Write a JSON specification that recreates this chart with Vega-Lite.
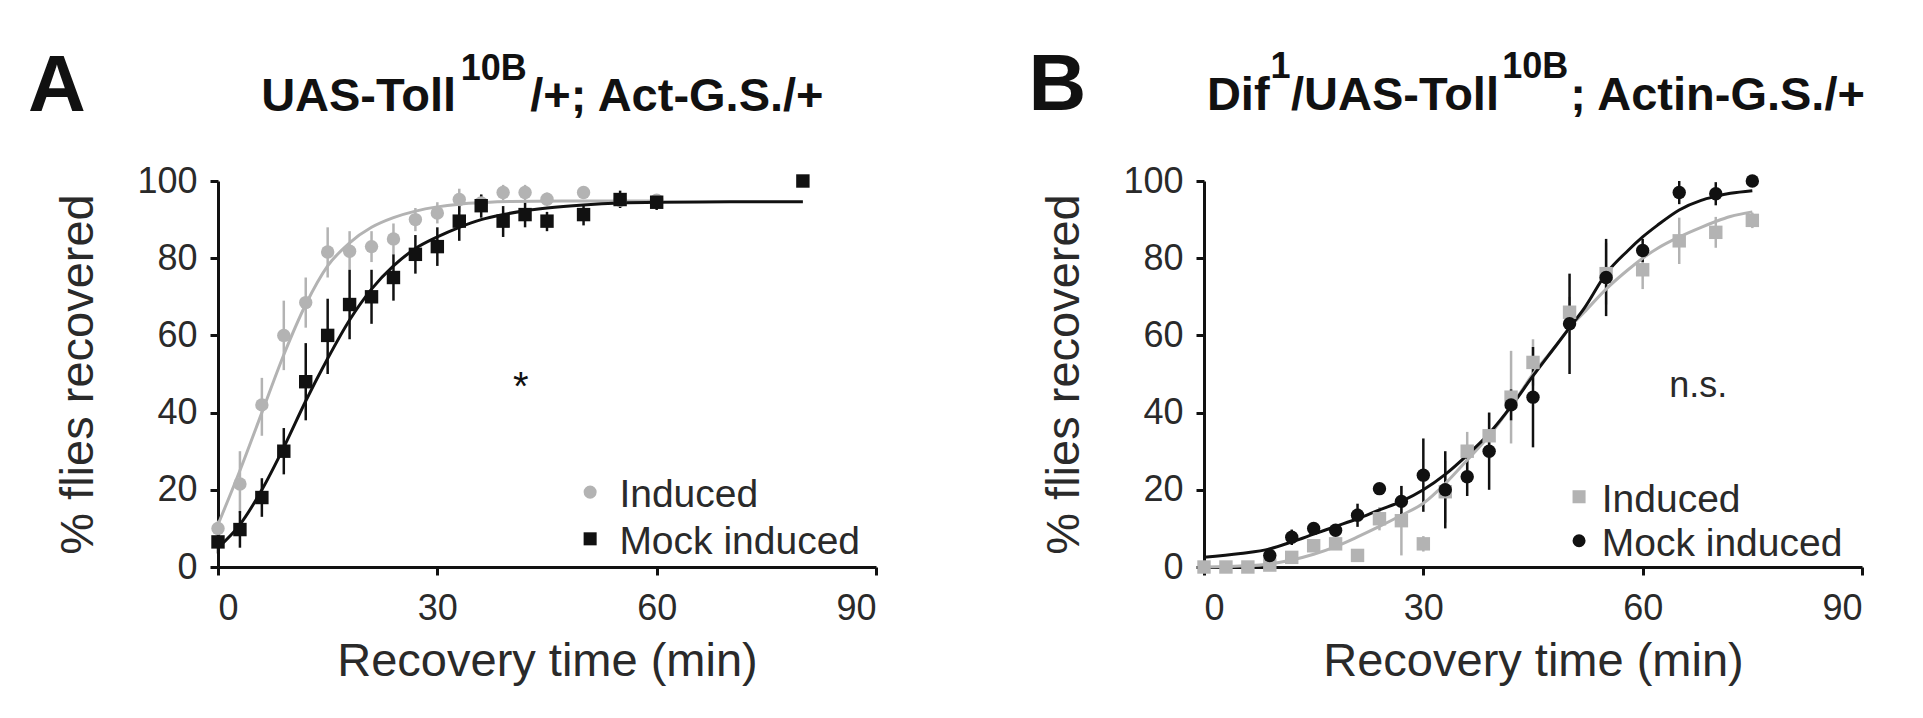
{
  "$schema": "https://vega.github.io/schema/vega-lite/v6.json",
  "background": "white",
  "padding": {"left": 27, "top": 45, "right": 5, "bottom": 5},
  "spacing": 150,
  "config": {
    "view": {"stroke": null},
    "font": "Liberation Sans",
    "axis": {"domainColor": "#111", "domainWidth": 3, "tickColor": "#111", "tickWidth": 3, "tickSize": 8, "labelFontSize": 36, "labelColor": "#2a2a2a", "labelFont": "Liberation Sans", "titleFontSize": 47, "titleFontWeight": "normal", "titleColor": "#2a2a2a", "titleFont": "Liberation Sans", "grid": false},
    "axisX": {"labelPadding": 16, "titlePadding": 12},
    "axisY": {"labelPadding": 13, "titlePadding": 34}
  },
  "datasets": {
    "a_pts": [
      {"group": "Induced", "t": 0, "y": 10, "lo": 8, "hi": 12},
      {"group": "Induced", "t": 3, "y": 21.5, "lo": 14, "hi": 30},
      {"group": "Induced", "t": 6, "y": 42, "lo": 34, "hi": 49},
      {"group": "Induced", "t": 9, "y": 60, "lo": 51, "hi": 69},
      {"group": "Induced", "t": 12, "y": 68.5, "lo": 62, "hi": 75},
      {"group": "Induced", "t": 15, "y": 81.6, "lo": 75, "hi": 88},
      {"group": "Induced", "t": 18, "y": 81.8, "lo": 77, "hi": 87},
      {"group": "Induced", "t": 21, "y": 83, "lo": 79, "hi": 87},
      {"group": "Induced", "t": 24, "y": 85, "lo": 81, "hi": 89},
      {"group": "Induced", "t": 27, "y": 90, "lo": 87, "hi": 93},
      {"group": "Induced", "t": 30, "y": 91.7, "lo": 89, "hi": 94.5},
      {"group": "Induced", "t": 33, "y": 95.2, "lo": 92, "hi": 98},
      {"group": "Induced", "t": 36, "y": 94.3, "lo": 92, "hi": 96.5},
      {"group": "Induced", "t": 39, "y": 97, "lo": 95, "hi": 99},
      {"group": "Induced", "t": 42, "y": 97, "lo": 95, "hi": 99},
      {"group": "Induced", "t": 45, "y": 95.3, "lo": 93.5, "hi": 97},
      {"group": "Induced", "t": 50, "y": 97, "lo": 95.5, "hi": 98.5},
      {"group": "Induced", "t": 55, "y": 95, "lo": 94, "hi": 96},
      {"group": "Induced", "t": 60, "y": 95, "lo": 94, "hi": 96},
      {"group": "Mock induced", "t": 0, "y": 6.5, "lo": 3.5, "hi": 9.5},
      {"group": "Mock induced", "t": 3, "y": 9.7, "lo": 5, "hi": 14.5},
      {"group": "Mock induced", "t": 6, "y": 18, "lo": 13, "hi": 23},
      {"group": "Mock induced", "t": 9, "y": 30, "lo": 24, "hi": 36},
      {"group": "Mock induced", "t": 12, "y": 48, "lo": 38, "hi": 58},
      {"group": "Mock induced", "t": 15, "y": 60, "lo": 50, "hi": 69.5},
      {"group": "Mock induced", "t": 18, "y": 68, "lo": 59, "hi": 77},
      {"group": "Mock induced", "t": 21, "y": 70, "lo": 63, "hi": 77},
      {"group": "Mock induced", "t": 24, "y": 75, "lo": 69, "hi": 81},
      {"group": "Mock induced", "t": 27, "y": 81, "lo": 76, "hi": 86},
      {"group": "Mock induced", "t": 30, "y": 83, "lo": 78, "hi": 88},
      {"group": "Mock induced", "t": 33, "y": 89.6, "lo": 84.5, "hi": 94.5},
      {"group": "Mock induced", "t": 36, "y": 93.6, "lo": 90.5, "hi": 96.5},
      {"group": "Mock induced", "t": 39, "y": 89.6, "lo": 85.5, "hi": 93.5},
      {"group": "Mock induced", "t": 42, "y": 91.3, "lo": 88, "hi": 94.5},
      {"group": "Mock induced", "t": 45, "y": 89.6, "lo": 87, "hi": 92},
      {"group": "Mock induced", "t": 50, "y": 91.3, "lo": 88.5, "hi": 94},
      {"group": "Mock induced", "t": 55, "y": 95.2, "lo": 93, "hi": 97.5},
      {"group": "Mock induced", "t": 60, "y": 94.5, "lo": 92.5, "hi": 96.5},
      {"group": "Mock induced", "t": 80, "y": 100, "lo": 100, "hi": 100}
    ],
    "a_fit": [
      {"group": "Induced", "t": 0, "y": 11},
      {"group": "Induced", "t": 3, "y": 25},
      {"group": "Induced", "t": 6, "y": 40},
      {"group": "Induced", "t": 9, "y": 55},
      {"group": "Induced", "t": 12, "y": 68},
      {"group": "Induced", "t": 15, "y": 78},
      {"group": "Induced", "t": 18, "y": 84},
      {"group": "Induced", "t": 21, "y": 88},
      {"group": "Induced", "t": 24, "y": 90.5},
      {"group": "Induced", "t": 27, "y": 92.2},
      {"group": "Induced", "t": 30, "y": 93.3},
      {"group": "Induced", "t": 33, "y": 94},
      {"group": "Induced", "t": 36, "y": 94.4},
      {"group": "Induced", "t": 40, "y": 94.7},
      {"group": "Induced", "t": 50, "y": 94.8},
      {"group": "Induced", "t": 60, "y": 94.8},
      {"group": "Mock induced", "t": 0, "y": 5},
      {"group": "Mock induced", "t": 3, "y": 11},
      {"group": "Mock induced", "t": 6, "y": 20},
      {"group": "Mock induced", "t": 9, "y": 31},
      {"group": "Mock induced", "t": 12, "y": 43},
      {"group": "Mock induced", "t": 15, "y": 54},
      {"group": "Mock induced", "t": 18, "y": 64},
      {"group": "Mock induced", "t": 21, "y": 72},
      {"group": "Mock induced", "t": 24, "y": 78},
      {"group": "Mock induced", "t": 27, "y": 82.5},
      {"group": "Mock induced", "t": 30, "y": 85.5},
      {"group": "Mock induced", "t": 33, "y": 88},
      {"group": "Mock induced", "t": 36, "y": 90},
      {"group": "Mock induced", "t": 39, "y": 91.3},
      {"group": "Mock induced", "t": 42, "y": 92.3},
      {"group": "Mock induced", "t": 45, "y": 93},
      {"group": "Mock induced", "t": 50, "y": 93.8},
      {"group": "Mock induced", "t": 55, "y": 94.3},
      {"group": "Mock induced", "t": 60, "y": 94.5},
      {"group": "Mock induced", "t": 70, "y": 94.6},
      {"group": "Mock induced", "t": 80, "y": 94.6}
    ],
    "b_pts": [
      {"group": "Induced", "t": 0, "y": 0, "lo": 0, "hi": 0},
      {"group": "Induced", "t": 3, "y": 0, "lo": 0, "hi": 0},
      {"group": "Induced", "t": 6, "y": 0, "lo": 0, "hi": 0},
      {"group": "Induced", "t": 9, "y": 0.5, "lo": 0, "hi": 1},
      {"group": "Induced", "t": 12, "y": 2.5, "lo": 1.5, "hi": 3.5},
      {"group": "Induced", "t": 15, "y": 5.5, "lo": 4.5, "hi": 6.5},
      {"group": "Induced", "t": 18, "y": 6, "lo": 5, "hi": 7},
      {"group": "Induced", "t": 21, "y": 3, "lo": 2, "hi": 4},
      {"group": "Induced", "t": 24, "y": 12.5, "lo": 9.5, "hi": 15.5},
      {"group": "Induced", "t": 27, "y": 12, "lo": 3, "hi": 21},
      {"group": "Induced", "t": 30, "y": 6, "lo": 4, "hi": 8},
      {"group": "Induced", "t": 33, "y": 19.5, "lo": 11.5, "hi": 27.5},
      {"group": "Induced", "t": 36, "y": 30, "lo": 25, "hi": 35},
      {"group": "Induced", "t": 39, "y": 34, "lo": 28, "hi": 40},
      {"group": "Induced", "t": 42, "y": 44, "lo": 32, "hi": 56},
      {"group": "Induced", "t": 45, "y": 53, "lo": 47, "hi": 59},
      {"group": "Induced", "t": 50, "y": 66, "lo": 62, "hi": 70},
      {"group": "Induced", "t": 55, "y": 76, "lo": 68, "hi": 84},
      {"group": "Induced", "t": 60, "y": 77, "lo": 72, "hi": 82},
      {"group": "Induced", "t": 65, "y": 84.5, "lo": 78.5, "hi": 90.5},
      {"group": "Induced", "t": 70, "y": 86.7, "lo": 82.7, "hi": 90.7},
      {"group": "Induced", "t": 75, "y": 89.8, "lo": 87.8, "hi": 91.8},
      {"group": "Mock induced", "t": 9, "y": 3, "lo": 1, "hi": 5},
      {"group": "Mock induced", "t": 12, "y": 7.7, "lo": 5.7, "hi": 9.7},
      {"group": "Mock induced", "t": 15, "y": 10, "lo": 8.5, "hi": 11.5},
      {"group": "Mock induced", "t": 18, "y": 9.5, "lo": 8, "hi": 11},
      {"group": "Mock induced", "t": 21, "y": 13.4, "lo": 10.4, "hi": 16.4},
      {"group": "Mock induced", "t": 24, "y": 20.3, "lo": 19.3, "hi": 21.3},
      {"group": "Mock induced", "t": 27, "y": 17, "lo": 13, "hi": 21},
      {"group": "Mock induced", "t": 30, "y": 23.8, "lo": 14.3, "hi": 33.3},
      {"group": "Mock induced", "t": 33, "y": 20, "lo": 10, "hi": 30},
      {"group": "Mock induced", "t": 36, "y": 23.4, "lo": 18.4, "hi": 28.4},
      {"group": "Mock induced", "t": 39, "y": 30, "lo": 20, "hi": 40},
      {"group": "Mock induced", "t": 42, "y": 42, "lo": 38, "hi": 46},
      {"group": "Mock induced", "t": 45, "y": 44, "lo": 31, "hi": 57},
      {"group": "Mock induced", "t": 50, "y": 63, "lo": 50, "hi": 76},
      {"group": "Mock induced", "t": 55, "y": 75, "lo": 65, "hi": 85},
      {"group": "Mock induced", "t": 60, "y": 82, "lo": 79, "hi": 85},
      {"group": "Mock induced", "t": 65, "y": 97, "lo": 94, "hi": 100},
      {"group": "Mock induced", "t": 70, "y": 96.7, "lo": 93.7, "hi": 99.7},
      {"group": "Mock induced", "t": 75, "y": 100, "lo": 99, "hi": 101}
    ],
    "b_fit": [
      {"group": "Induced", "t": 0, "y": 0},
      {"group": "Induced", "t": 6, "y": 0.3},
      {"group": "Induced", "t": 9, "y": 0.8},
      {"group": "Induced", "t": 12, "y": 1.8},
      {"group": "Induced", "t": 15, "y": 3.3},
      {"group": "Induced", "t": 18, "y": 5.3},
      {"group": "Induced", "t": 21, "y": 7.8},
      {"group": "Induced", "t": 24, "y": 10.5},
      {"group": "Induced", "t": 27, "y": 13.4},
      {"group": "Induced", "t": 30, "y": 16.5},
      {"group": "Induced", "t": 33, "y": 21.6},
      {"group": "Induced", "t": 36, "y": 27.7},
      {"group": "Induced", "t": 39, "y": 34},
      {"group": "Induced", "t": 42, "y": 41.6},
      {"group": "Induced", "t": 45, "y": 50},
      {"group": "Induced", "t": 48, "y": 57},
      {"group": "Induced", "t": 50, "y": 62},
      {"group": "Induced", "t": 52, "y": 66},
      {"group": "Induced", "t": 55, "y": 72},
      {"group": "Induced", "t": 58, "y": 77},
      {"group": "Induced", "t": 60, "y": 80},
      {"group": "Induced", "t": 62, "y": 82.5},
      {"group": "Induced", "t": 65, "y": 85.5},
      {"group": "Induced", "t": 68, "y": 88},
      {"group": "Induced", "t": 70, "y": 89.5},
      {"group": "Induced", "t": 72, "y": 90.8},
      {"group": "Induced", "t": 75, "y": 92},
      {"group": "Mock induced", "t": 0, "y": 2.5},
      {"group": "Mock induced", "t": 5, "y": 3.5},
      {"group": "Mock induced", "t": 9, "y": 4.7},
      {"group": "Mock induced", "t": 12, "y": 6.5},
      {"group": "Mock induced", "t": 15, "y": 8.5},
      {"group": "Mock induced", "t": 18, "y": 10.5},
      {"group": "Mock induced", "t": 21, "y": 12.5},
      {"group": "Mock induced", "t": 24, "y": 14.8},
      {"group": "Mock induced", "t": 27, "y": 17},
      {"group": "Mock induced", "t": 30, "y": 20},
      {"group": "Mock induced", "t": 33, "y": 24},
      {"group": "Mock induced", "t": 36, "y": 29},
      {"group": "Mock induced", "t": 39, "y": 34.6},
      {"group": "Mock induced", "t": 42, "y": 41.6},
      {"group": "Mock induced", "t": 45, "y": 49.5},
      {"group": "Mock induced", "t": 48, "y": 57},
      {"group": "Mock induced", "t": 50, "y": 62},
      {"group": "Mock induced", "t": 52, "y": 67},
      {"group": "Mock induced", "t": 55, "y": 76},
      {"group": "Mock induced", "t": 58, "y": 82},
      {"group": "Mock induced", "t": 60, "y": 85.5},
      {"group": "Mock induced", "t": 62, "y": 88.5},
      {"group": "Mock induced", "t": 65, "y": 92.5},
      {"group": "Mock induced", "t": 68, "y": 95},
      {"group": "Mock induced", "t": 70, "y": 96},
      {"group": "Mock induced", "t": 72, "y": 96.8},
      {"group": "Mock induced", "t": 75, "y": 97.5}
    ]
  },
  "hconcat": [
    {
      "width": 658,
      "height": 386,
      "layer": [
        {
          "data": {"name": "a_pts"},
          "mark": {"type": "rule", "strokeWidth": 2.5},
          "encoding": {
            "x": {"field": "t", "type": "quantitative", "scale": {"domain": [0, 90], "nice": false}, "axis": {"values": [0, 30, 60, 90], "title": "Recovery time (min)"}},
            "y": {"field": "lo", "type": "quantitative", "scale": {"domain": [0, 100], "nice": false}, "axis": {"values": [0, 20, 40, 60, 80, 100], "title": "% flies recovered"}},
            "y2": {"field": "hi"},
            "stroke": {"field": "group", "type": "nominal", "scale": {"domain": ["Induced", "Mock induced"], "range": ["#b3b3b3", "#111111"]}, "legend": null}
          }
        },
        {
          "data": {"name": "a_fit"},
          "mark": {"type": "line", "strokeWidth": 3, "interpolate": "monotone"},
          "encoding": {
            "x": {"field": "t", "type": "quantitative", "scale": {"domain": [0, 90], "nice": false}},
            "y": {"field": "y", "type": "quantitative", "scale": {"domain": [0, 100], "nice": false}},
            "stroke": {"field": "group", "type": "nominal", "scale": {"domain": ["Induced", "Mock induced"], "range": ["#b3b3b3", "#111111"]}, "legend": null}
          }
        },
        {
          "data": {"name": "a_pts"},
          "mark": {"type": "point", "filled": true, "opacity": 1, "size": 180},
          "encoding": {
            "x": {"field": "t", "type": "quantitative", "scale": {"domain": [0, 90], "nice": false}},
            "y": {"field": "y", "type": "quantitative", "scale": {"domain": [0, 100], "nice": false}},
            "color": {"field": "group", "type": "nominal", "scale": {"domain": ["Induced", "Mock induced"], "range": ["#b3b3b3", "#111111"]}, "legend": null},
            "shape": {"field": "group", "type": "nominal", "scale": {"domain": ["Induced", "Mock induced"], "range": ["circle", "square"]}, "legend": null}
          }
        },
        {
          "data": {"values": [{}]},
          "mark": {"type": "point", "filled": true, "opacity": 1, "size": 170, "shape": "circle", "color": "#b3b3b3"},
          "encoding": {"x": {"datum": 50.9, "scale": {"domain": [0, 90], "nice": false}}, "y": {"datum": 19.4, "scale": {"domain": [0, 100], "nice": false}}}
        },
        {
          "data": {"values": [{}]},
          "mark": {"type": "point", "filled": true, "opacity": 1, "size": 170, "shape": "square", "color": "#111111"},
          "encoding": {"x": {"datum": 50.9, "scale": {"domain": [0, 90], "nice": false}}, "y": {"datum": 7.3, "scale": {"domain": [0, 100], "nice": false}}}
        },
        {
          "data": {"values": [{}]},
          "mark": {"type": "text", "fontSize": 39, "align": "left", "baseline": "alphabetic", "color": "#2a2a2a"},
          "encoding": {"x": {"datum": 54.9, "scale": {"domain": [0, 90], "nice": false}}, "y": {"datum": 15.5, "scale": {"domain": [0, 100], "nice": false}}, "text": {"value": "Induced"}}
        },
        {
          "data": {"values": [{}]},
          "mark": {"type": "text", "fontSize": 39, "align": "left", "baseline": "alphabetic", "color": "#2a2a2a"},
          "encoding": {"x": {"datum": 54.9, "scale": {"domain": [0, 90], "nice": false}}, "y": {"datum": 3.4, "scale": {"domain": [0, 100], "nice": false}}, "text": {"value": "Mock induced"}}
        },
        {
          "data": {"values": [{}]},
          "mark": {"type": "text", "fontSize": 80, "fontWeight": "bold", "align": "left", "baseline": "alphabetic", "color": "#111"},
          "encoding": {"x": {"datum": -26, "scale": {"domain": [0, 90], "nice": false}}, "y": {"datum": 118.1, "scale": {"domain": [0, 100], "nice": false}}, "text": {"value": "A"}}
        },
        {
          "data": {"values": [{}]},
          "mark": {"type": "text", "fontSize": 47, "fontWeight": "bold", "align": "left", "baseline": "alphabetic", "color": "#111"},
          "encoding": {"x": {"datum": 5.9, "scale": {"domain": [0, 90], "nice": false}}, "y": {"datum": 118.1, "scale": {"domain": [0, 100], "nice": false}}, "text": {"value": "UAS-Toll"}}
        },
        {
          "data": {"values": [{}]},
          "mark": {"type": "text", "fontSize": 36, "fontWeight": "bold", "align": "left", "baseline": "alphabetic", "color": "#111"},
          "encoding": {"x": {"datum": 33.2, "scale": {"domain": [0, 90], "nice": false}}, "y": {"datum": 126.2, "scale": {"domain": [0, 100], "nice": false}}, "text": {"value": "10B"}}
        },
        {
          "data": {"values": [{}]},
          "mark": {"type": "text", "fontSize": 47, "fontWeight": "bold", "align": "left", "baseline": "alphabetic", "color": "#111"},
          "encoding": {"x": {"datum": 42.7, "scale": {"domain": [0, 90], "nice": false}}, "y": {"datum": 118.1, "scale": {"domain": [0, 100], "nice": false}}, "text": {"value": "/+; Act-G.S./+"}}
        },
        {
          "data": {"values": [{}]},
          "mark": {"type": "text", "fontSize": 40, "align": "center", "baseline": "middle", "color": "#111"},
          "encoding": {"x": {"datum": 41.4, "scale": {"domain": [0, 90], "nice": false}}, "y": {"datum": 46.5, "scale": {"domain": [0, 100], "nice": false}}, "text": {"value": "*"}}
        }
      ]
    },
    {
      "width": 658,
      "height": 386,
      "layer": [
        {
          "data": {"name": "b_pts"},
          "mark": {"type": "rule", "strokeWidth": 2.5},
          "encoding": {
            "x": {"field": "t", "type": "quantitative", "scale": {"domain": [0, 90], "nice": false}, "axis": {"values": [0, 30, 60, 90], "title": "Recovery time (min)"}},
            "y": {"field": "lo", "type": "quantitative", "scale": {"domain": [0, 100], "nice": false}, "axis": {"values": [0, 20, 40, 60, 80, 100], "title": "% flies recovered"}},
            "y2": {"field": "hi"},
            "stroke": {"field": "group", "type": "nominal", "scale": {"domain": ["Induced", "Mock induced"], "range": ["#b3b3b3", "#111111"]}, "legend": null}
          }
        },
        {
          "data": {"name": "b_fit"},
          "mark": {"type": "line", "strokeWidth": 3, "interpolate": "monotone"},
          "encoding": {
            "x": {"field": "t", "type": "quantitative", "scale": {"domain": [0, 90], "nice": false}},
            "y": {"field": "y", "type": "quantitative", "scale": {"domain": [0, 100], "nice": false}},
            "stroke": {"field": "group", "type": "nominal", "scale": {"domain": ["Induced", "Mock induced"], "range": ["#b3b3b3", "#111111"]}, "legend": null}
          }
        },
        {
          "data": {"name": "b_pts"},
          "mark": {"type": "point", "filled": true, "opacity": 1, "size": 180},
          "encoding": {
            "x": {"field": "t", "type": "quantitative", "scale": {"domain": [0, 90], "nice": false}},
            "y": {"field": "y", "type": "quantitative", "scale": {"domain": [0, 100], "nice": false}},
            "color": {"field": "group", "type": "nominal", "scale": {"domain": ["Induced", "Mock induced"], "range": ["#b3b3b3", "#111111"]}, "legend": null},
            "shape": {"field": "group", "type": "nominal", "scale": {"domain": ["Induced", "Mock induced"], "range": ["square", "circle"]}, "legend": null}
          }
        },
        {
          "data": {"values": [{}]},
          "mark": {"type": "point", "filled": true, "opacity": 1, "size": 170, "shape": "square", "color": "#b3b3b3"},
          "encoding": {"x": {"datum": 51.3, "scale": {"domain": [0, 90], "nice": false}}, "y": {"datum": 18.2, "scale": {"domain": [0, 100], "nice": false}}}
        },
        {
          "data": {"values": [{}]},
          "mark": {"type": "point", "filled": true, "opacity": 1, "size": 170, "shape": "circle", "color": "#111111"},
          "encoding": {"x": {"datum": 51.3, "scale": {"domain": [0, 90], "nice": false}}, "y": {"datum": 6.8, "scale": {"domain": [0, 100], "nice": false}}}
        },
        {
          "data": {"values": [{}]},
          "mark": {"type": "text", "fontSize": 39, "align": "left", "baseline": "alphabetic", "color": "#2a2a2a"},
          "encoding": {"x": {"datum": 54.4, "scale": {"domain": [0, 90], "nice": false}}, "y": {"datum": 14.3, "scale": {"domain": [0, 100], "nice": false}}, "text": {"value": "Induced"}}
        },
        {
          "data": {"values": [{}]},
          "mark": {"type": "text", "fontSize": 39, "align": "left", "baseline": "alphabetic", "color": "#2a2a2a"},
          "encoding": {"x": {"datum": 54.4, "scale": {"domain": [0, 90], "nice": false}}, "y": {"datum": 2.9, "scale": {"domain": [0, 100], "nice": false}}, "text": {"value": "Mock induced"}}
        },
        {
          "data": {"values": [{}]},
          "mark": {"type": "text", "fontSize": 80, "fontWeight": "bold", "align": "left", "baseline": "alphabetic", "color": "#111"},
          "encoding": {"x": {"datum": -24, "scale": {"domain": [0, 90], "nice": false}}, "y": {"datum": 118.5, "scale": {"domain": [0, 100], "nice": false}}, "text": {"value": "B"}}
        },
        {
          "data": {"values": [{}]},
          "mark": {"type": "text", "fontSize": 47, "fontWeight": "bold", "align": "left", "baseline": "alphabetic", "color": "#111"},
          "encoding": {"x": {"datum": 0.4, "scale": {"domain": [0, 90], "nice": false}}, "y": {"datum": 118.5, "scale": {"domain": [0, 100], "nice": false}}, "text": {"value": "Dif"}}
        },
        {
          "data": {"values": [{}]},
          "mark": {"type": "text", "fontSize": 36, "fontWeight": "bold", "align": "left", "baseline": "alphabetic", "color": "#111"},
          "encoding": {"x": {"datum": 9.1, "scale": {"domain": [0, 90], "nice": false}}, "y": {"datum": 126.7, "scale": {"domain": [0, 100], "nice": false}}, "text": {"value": "1"}}
        },
        {
          "data": {"values": [{}]},
          "mark": {"type": "text", "fontSize": 47, "fontWeight": "bold", "align": "left", "baseline": "alphabetic", "color": "#111"},
          "encoding": {"x": {"datum": 11.9, "scale": {"domain": [0, 90], "nice": false}}, "y": {"datum": 118.5, "scale": {"domain": [0, 100], "nice": false}}, "text": {"value": "/UAS-Toll"}}
        },
        {
          "data": {"values": [{}]},
          "mark": {"type": "text", "fontSize": 36, "fontWeight": "bold", "align": "left", "baseline": "alphabetic", "color": "#111"},
          "encoding": {"x": {"datum": 40.8, "scale": {"domain": [0, 90], "nice": false}}, "y": {"datum": 126.7, "scale": {"domain": [0, 100], "nice": false}}, "text": {"value": "10B"}}
        },
        {
          "data": {"values": [{}]},
          "mark": {"type": "text", "fontSize": 47, "fontWeight": "bold", "align": "left", "baseline": "alphabetic", "color": "#111"},
          "encoding": {"x": {"datum": 50.1, "scale": {"domain": [0, 90], "nice": false}}, "y": {"datum": 118.5, "scale": {"domain": [0, 100], "nice": false}}, "text": {"value": "; Actin-G.S./+"}}
        },
        {
          "data": {"values": [{}]},
          "mark": {"type": "text", "fontSize": 36, "align": "center", "baseline": "alphabetic", "color": "#2a2a2a"},
          "encoding": {"x": {"datum": 67.6, "scale": {"domain": [0, 90], "nice": false}}, "y": {"datum": 44, "scale": {"domain": [0, 100], "nice": false}}, "text": {"value": "n.s."}}
        }
      ]
    }
  ],
  "resolve": {
    "scale": {"x": "independent", "y": "independent", "color": "independent", "shape": "independent", "stroke": "independent"}
  }
}
